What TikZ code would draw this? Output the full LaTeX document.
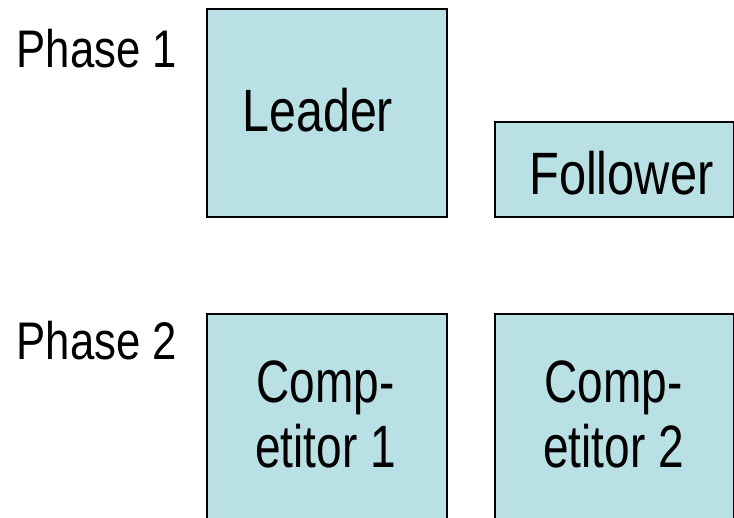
\documentclass[tikz,border=0pt]{standalone}
\usepackage{fontspec}
\setmainfont{Liberation Sans}
\definecolor{boxfill}{RGB}{185,224,228}
\begin{document}
\begin{tikzpicture}[x=1pt,y=-1pt,
  box/.style={draw=black, line width=2pt, fill=boxfill},
  lbl/.style={inner sep=0pt, font=\fontsize{46}{50}\selectfont, transform shape},
]
\useasboundingbox (0,0) rectangle (734,518);
\clip (0,0) rectangle (734,518);
% boxes
\node[box, anchor=north west, minimum width=240pt, minimum height=208pt, inner sep=0pt] (leader) at (206,8) {};
\node[box, anchor=north west, minimum width=239pt, minimum height=95pt, inner sep=0pt] (follower) at (494,121) {};
\node[box, anchor=north west, minimum width=240pt, minimum height=230pt, inner sep=0pt] (comp1) at (206,313) {};
\node[box, anchor=north west, minimum width=239pt, minimum height=230pt, inner sep=0pt] (comp2) at (494,313) {};
% labels
\node[lbl, anchor=base west, xscale=0.95, yscale=1.15] (phase1) at (16.5,68) {Phase 1};
\node[lbl, anchor=base west, xscale=0.95, yscale=1.15] (phase2) at (16.5,360) {Phase 2};
\node[lbl, anchor=base west, xscale=1.05, yscale=1.3] (leadertext) at (242.5,132) {Leader};
\node[lbl, anchor=base west, xscale=1.06, yscale=1.3] (followertext) at (529,195) {Follower};
\node[lbl, anchor=south, align=center, text depth=0pt, xscale=1.0, yscale=1.3] (comp1text) at (325.5,468) {Comp-\\etitor 1};
\node[lbl, anchor=south, align=center, text depth=0pt, xscale=1.0, yscale=1.3] (comp2text) at (613.5,468) {Comp-\\etitor 2};
\end{tikzpicture}
\end{document}
